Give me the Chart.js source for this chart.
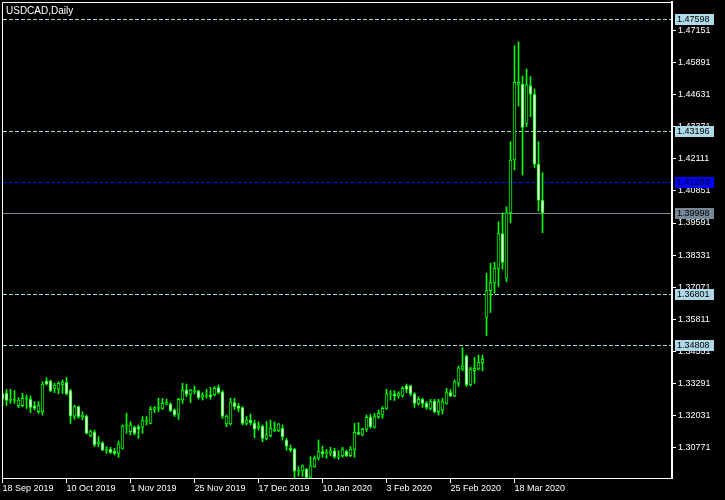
<!DOCTYPE html>
<html>
<head>
<meta charset="utf-8">
<script src="https://cdn.jsdelivr.net/npm/chart.js@4.4.1/dist/chart.umd.min.js"></script>
<style>
  html, body { margin: 0; padding: 0; background: #000; }
  canvas { display: block; }
</style>
</head>
<body>
<canvas id="chart" width="725" height="500"></canvas>
<script>
// Chart caption
const symbolTitle = 'USDCAD,Daily';

// One entry per daily bar (trading days only)
const dates = [
  '2019.09.18','2019.09.19','2019.09.20','2019.09.23','2019.09.24','2019.09.25','2019.09.26','2019.09.27','2019.09.30',
  '2019.10.01','2019.10.02','2019.10.03','2019.10.04','2019.10.07','2019.10.08','2019.10.09','2019.10.10','2019.10.11',
  '2019.10.14','2019.10.15','2019.10.16','2019.10.17','2019.10.18','2019.10.21','2019.10.22','2019.10.23','2019.10.24',
  '2019.10.25','2019.10.28','2019.10.29','2019.10.30','2019.10.31',
  '2019.11.01','2019.11.04','2019.11.05','2019.11.06','2019.11.07','2019.11.08','2019.11.11','2019.11.12','2019.11.13',
  '2019.11.14','2019.11.15','2019.11.18','2019.11.19','2019.11.20','2019.11.21','2019.11.22','2019.11.25','2019.11.26',
  '2019.11.27','2019.11.28','2019.11.29',
  '2019.12.02','2019.12.03','2019.12.04','2019.12.05','2019.12.06','2019.12.09','2019.12.10','2019.12.11','2019.12.12',
  '2019.12.13','2019.12.16','2019.12.17','2019.12.18','2019.12.19','2019.12.20','2019.12.23','2019.12.24','2019.12.26',
  '2019.12.27','2019.12.30','2019.12.31',
  '2020.01.02','2020.01.03','2020.01.06','2020.01.07','2020.01.08','2020.01.09','2020.01.10','2020.01.13','2020.01.14',
  '2020.01.15','2020.01.16','2020.01.17','2020.01.20','2020.01.21','2020.01.22','2020.01.23','2020.01.24','2020.01.27',
  '2020.01.28','2020.01.29','2020.01.30','2020.01.31',
  '2020.02.03','2020.02.04','2020.02.05','2020.02.06','2020.02.07','2020.02.10','2020.02.11','2020.02.12','2020.02.13',
  '2020.02.14','2020.02.17','2020.02.18','2020.02.19','2020.02.20','2020.02.21','2020.02.24','2020.02.25','2020.02.26',
  '2020.02.27','2020.02.28',
  '2020.03.02','2020.03.03','2020.03.04','2020.03.05','2020.03.06','2020.03.09','2020.03.10','2020.03.11','2020.03.12',
  '2020.03.13','2020.03.16','2020.03.17','2020.03.18','2020.03.19','2020.03.20','2020.03.23','2020.03.24','2020.03.25',
  '2020.03.26','2020.03.27'
];

// OHLC
const open = [
  1.3287, 1.3289, 1.3261, 1.3264, 1.3241, 1.3241, 1.3266, 1.3266, 1.3240, 1.3217,
  1.3217, 1.3338, 1.3338, 1.3309, 1.3306, 1.3322, 1.3333, 1.3300, 1.3200, 1.3237,
  1.3198, 1.3200, 1.3124, 1.3136, 1.3090, 1.3095, 1.3066, 1.3070, 1.3061, 1.3053,
  1.3073, 1.3161, 1.3139, 1.3156, 1.3158, 1.3156, 1.3178, 1.3171, 1.3226, 1.3230,
  1.3230, 1.3247, 1.3247, 1.3224, 1.3207, 1.3263, 1.3302, 1.3285, 1.3295, 1.3299,
  1.3274, 1.3279, 1.3283, 1.3283, 1.3312, 1.3295, 1.3169, 1.3169, 1.3253, 1.3240,
  1.3233, 1.3171, 1.3184, 1.3171, 1.3152, 1.3161, 1.3112, 1.3123, 1.3142, 1.3142,
  1.3152, 1.3106, 1.3073, 1.3070, 1.2984, 1.2984, 1.2991, 1.2959, 1.3001, 1.3034,
  1.3060, 1.3051, 1.3053, 1.3063, 1.3038, 1.3043, 1.3060, 1.3044, 1.3069, 1.3136,
  1.3126, 1.3148, 1.3195, 1.3156, 1.3198, 1.3204, 1.3230, 1.3283, 1.3285, 1.3279,
  1.3279, 1.3319, 1.3319, 1.3287, 1.3250, 1.3266, 1.3250, 1.3230, 1.3259, 1.3217,
  1.3224, 1.3250, 1.3292, 1.3279, 1.3329, 1.3384, 1.3436, 1.3322, 1.3378, 1.3384,
  1.3410, 1.3588, 1.3693, 1.3724, 1.3781, 1.3918, 1.3742, 1.3999, 1.4207, 1.4504,
  1.4504, 1.4351, 1.4499, 1.4465, 1.4190, 1.4048
];
const high = [
  1.3292, 1.3305, 1.3305, 1.3300, 1.3272, 1.3289, 1.3283, 1.3279, 1.3257, 1.3257,
  1.3335, 1.3351, 1.3342, 1.3329, 1.3335, 1.3342, 1.3352, 1.3305, 1.3243, 1.3239,
  1.3217, 1.3204, 1.3145, 1.3145, 1.3119, 1.3099, 1.3080, 1.3077, 1.3073, 1.3102,
  1.3165, 1.3211, 1.3178, 1.3161, 1.3165, 1.3198, 1.3198, 1.3237, 1.3237, 1.3270,
  1.3270, 1.3266, 1.3253, 1.3228, 1.3270, 1.3329, 1.3326, 1.3305, 1.3318, 1.3302,
  1.3292, 1.3305, 1.3313, 1.3316, 1.3322, 1.3300, 1.3204, 1.3270, 1.3270, 1.3250,
  1.3237, 1.3198, 1.3208, 1.3184, 1.3178, 1.3165, 1.3178, 1.3184, 1.3178, 1.3171,
  1.3165, 1.3112, 1.3086, 1.3073, 1.3001, 1.3008, 1.2994, 1.3040, 1.3043, 1.3106,
  1.3082, 1.3069, 1.3077, 1.3073, 1.3064, 1.3077, 1.3066, 1.3080, 1.3171, 1.3174,
  1.3152, 1.3204, 1.3207, 1.3211, 1.3224, 1.3237, 1.3305, 1.3300, 1.3300, 1.3296,
  1.3316, 1.3326, 1.3322, 1.3292, 1.3276, 1.3270, 1.3257, 1.3266, 1.3266, 1.3266,
  1.3270, 1.3309, 1.3305, 1.3342, 1.3397, 1.3469, 1.3440, 1.3392, 1.3431, 1.3440,
  1.3440, 1.3761, 1.3801, 1.3805, 1.3964, 1.3999, 1.4023, 1.4279, 1.4656, 1.4672,
  1.4537, 1.4565, 1.4535, 1.4486, 1.4279, 1.4157
];
const low = [
  1.3243, 1.3241, 1.3250, 1.3250, 1.3233, 1.3237, 1.3230, 1.3213, 1.3224, 1.3211,
  1.3204, 1.3322, 1.3296, 1.3292, 1.3287, 1.3289, 1.3283, 1.3171, 1.3187, 1.3191,
  1.3185, 1.3130, 1.3119, 1.3080, 1.3080, 1.3064, 1.3053, 1.3053, 1.3047, 1.3038,
  1.3070, 1.3132, 1.3126, 1.3126, 1.3112, 1.3132, 1.3165, 1.3169, 1.3213, 1.3217,
  1.3226, 1.3243, 1.3217, 1.3198, 1.3187, 1.3250, 1.3276, 1.3253, 1.3287, 1.3266,
  1.3263, 1.3270, 1.3266, 1.3279, 1.3287, 1.3191, 1.3158, 1.3165, 1.3226, 1.3217,
  1.3165, 1.3165, 1.3165, 1.3115, 1.3145, 1.3099, 1.3106, 1.3119, 1.3139, 1.3139,
  1.3106, 1.3066, 1.3060, 1.2955, 1.2964, 1.2962, 1.2955, 1.2955, 1.2999, 1.3027,
  1.3038, 1.3034, 1.3043, 1.3034, 1.3030, 1.3038, 1.3040, 1.3040, 1.3038, 1.3126,
  1.3122, 1.3139, 1.3152, 1.3152, 1.3191, 1.3191, 1.3226, 1.3263, 1.3261, 1.3270,
  1.3274, 1.3292, 1.3279, 1.3234, 1.3243, 1.3234, 1.3226, 1.3224, 1.3213, 1.3204,
  1.3208, 1.3246, 1.3276, 1.3276, 1.3316, 1.3378, 1.3316, 1.3318, 1.3329, 1.3381,
  1.3378, 1.3516, 1.3607, 1.3683, 1.3709, 1.3777, 1.3728, 1.3960, 1.4168, 1.4419,
  1.4148, 1.4338, 1.4377, 1.4177, 1.4006, 1.3921
];
const close = [
  1.3266, 1.3261, 1.3267, 1.3262, 1.3263, 1.3270, 1.3272, 1.3234, 1.3230, 1.3241,
  1.3326, 1.3325, 1.3300, 1.3322, 1.3329, 1.3334, 1.3287, 1.3200, 1.3237, 1.3198,
  1.3203, 1.3132, 1.3139, 1.3086, 1.3099, 1.3066, 1.3069, 1.3057, 1.3053, 1.3090,
  1.3161, 1.3165, 1.3165, 1.3132, 1.3148, 1.3182, 1.3182, 1.3226, 1.3233, 1.3234,
  1.3250, 1.3253, 1.3221, 1.3204, 1.3266, 1.3302, 1.3285, 1.3302, 1.3300, 1.3272,
  1.3283, 1.3281, 1.3276, 1.3309, 1.3292, 1.3200, 1.3200, 1.3255, 1.3237, 1.3230,
  1.3171, 1.3184, 1.3174, 1.3148, 1.3161, 1.3112, 1.3126, 1.3152, 1.3149, 1.3169,
  1.3119, 1.3082, 1.3066, 1.2984, 1.2988, 1.3004, 1.2959, 1.3004, 1.3034, 1.3060,
  1.3051, 1.3056, 1.3063, 1.3040, 1.3043, 1.3070, 1.3044, 1.3070, 1.3136, 1.3129,
  1.3148, 1.3195, 1.3158, 1.3198, 1.3211, 1.3230, 1.3287, 1.3287, 1.3279, 1.3289,
  1.3309, 1.3305, 1.3287, 1.3250, 1.3266, 1.3250, 1.3234, 1.3257, 1.3217, 1.3257,
  1.3257, 1.3292, 1.3279, 1.3335, 1.3390, 1.3397, 1.3322, 1.3385, 1.3388, 1.3411,
  1.3423, 1.3693, 1.3724, 1.3781, 1.3918, 1.3804, 1.3999, 1.4207, 1.4512, 1.4512,
  1.4335, 1.4502, 1.4466, 1.4190, 1.4048, 1.39998
];

// Axis ticks
const xTickIndex = [0, 16, 32, 48, 64, 80, 96, 112, 128];
const xTickLabels = ['18 Sep 2019', '10 Oct 2019', '1 Nov 2019', '25 Nov 2019', '17 Dec 2019',
                     '10 Jan 2020', '3 Feb 2020', '25 Feb 2020', '18 Mar 2020'];
const yTickValues = [1.47151, 1.45891, 1.44631, 1.43371, 1.42111, 1.40851, 1.39591,
                     1.38331, 1.37071, 1.35811, 1.34551, 1.33291, 1.32031, 1.30771];

// Horizontal levels drawn on the chart
const levelLines = [1.47598, 1.43196, 1.36801, 1.34808];
const alertLevel = 1.41203;
const bidLevel = 1.39998;

const BULL = '#000000';
const BEAR = '#ffffff';
const CANDLE = '#00ff00';
const LEVEL = '#add8e6';
const FONT = '"Liberation Sans", Arial, sans-serif';

const bodies = dates.map((d, i) => ({ x: i, y: [Math.min(open[i], close[i]), Math.max(open[i], close[i])] }));
const wicks = dates.map((d, i) => ({ x: i, y: [low[i], high[i]] }));
const bodyFill = dates.map((d, i) => (close[i] > open[i] ? BULL : BEAR));

// horizontal lines, their price tags, frame and caption
const overlay = {
  id: 'overlay',
  beforeDatasetsDraw(chart) {
    const { ctx, chartArea: a, scales: { y } } = chart;
    ctx.save();
    ctx.lineWidth = 1;
    const line = (v, color, dash) => {
      const py = Math.round(y.getPixelForValue(v)) + 0.5;
      ctx.strokeStyle = color;
      ctx.setLineDash(dash);
      ctx.beginPath();
      ctx.moveTo(a.left + 1, py);
      ctx.lineTo(a.right - 1, py);
      ctx.stroke();
    };
    levelLines.forEach(v => line(v, LEVEL, [4, 2]));
    line(alertLevel, '#0000ff', [4, 2]);
    line(bidLevel, '#778899', []);
    ctx.restore();
  },
  afterDraw(chart) {
    const { ctx, chartArea: a, scales: { y } } = chart;
    ctx.save();
    // frame (left and top; right and bottom come from the axes)
    ctx.strokeStyle = '#ffffff';
    ctx.lineWidth = 1;
    ctx.beginPath();
    ctx.moveTo(a.left + 0.5, a.bottom);
    ctx.lineTo(a.left + 0.5, a.top + 0.5);
    ctx.lineTo(a.right, a.top + 0.5);
    ctx.stroke();

    const tag = (v, bg, fg) => {
      const py = Math.round(y.getPixelForValue(v));
      ctx.fillStyle = bg;
      ctx.fillRect(a.right + 3, py - 5, 39, 11);
      ctx.fillStyle = fg;
      ctx.font = '9px ' + FONT;
      ctx.textBaseline = 'middle';
      ctx.textAlign = 'left';
      ctx.fillText(v.toFixed(5), a.right + 5, py + 1);
    };
    levelLines.forEach(v => tag(v, LEVEL, '#000000'));
    tag(alertLevel, '#0000ff', '#000000');
    tag(bidLevel, '#778899', '#000000');

    ctx.fillStyle = '#ffffff';
    ctx.font = '10px ' + FONT;
    ctx.textBaseline = 'alphabetic';
    ctx.fillText(symbolTitle, a.left + 4, 14);
    ctx.restore();
  }
};

new Chart(document.getElementById('chart'), {
  type: 'bar',
  data: {
    datasets: [
      {
        label: 'body',
        data: bodies,
        backgroundColor: bodyFill,
        borderColor: CANDLE,
        borderWidth: 1,
        borderSkipped: false,
        barThickness: 3,
        grouped: false
      },
      {
        label: 'wick',
        data: wicks,
        backgroundColor: CANDLE,
        borderWidth: 0,
        barThickness: 1,
        grouped: false
      }
    ]
  },
  options: {
    responsive: false,
    animation: false,
    events: [],
    devicePixelRatio: 1,
    layout: { padding: { left: 2, top: 2, right: 0, bottom: 0 } },
    plugins: {
      legend: { display: false },
      tooltip: { enabled: false },
      title: { display: false }
    },
    scales: {
      x: {
        type: 'linear',
        offset: false,
        min: -0.125,
        max: 167.375,
        afterBuildTicks: s => { s.ticks = xTickIndex.map(v => ({ value: v })); },
        afterFit: s => { s.height = 22; s.paddingLeft = 0; s.paddingRight = 0; },
        grid: { offset: false, drawOnChartArea: false, drawTicks: true, tickLength: 5, color: '#ffffff' },
        border: { display: true, color: '#ffffff', width: 1 },
        ticks: {
          autoSkip: false,
          maxRotation: 0,
          align: 'start',
          padding: 0,
          color: '#ffffff',
          font: { family: FONT, size: 9 },
          callback: v => {
            const j = xTickIndex.indexOf(v);
            return j >= 0 ? xTickLabels[j] : '';
          }
        }
      },
      y: {
        type: 'linear',
        position: 'right',
        min: 1.29564,
        max: 1.48282,
        afterBuildTicks: s => { s.ticks = yTickValues.map(v => ({ value: v })); },
        afterFit: s => { s.width = 53; s.paddingTop = 0; s.paddingBottom = 0; },
        grid: { drawOnChartArea: false, drawTicks: true, tickLength: 4, color: '#ffffff' },
        border: { display: true, color: '#ffffff', width: 2 },
        ticks: {
          padding: 2,
          color: '#ffffff',
          font: { family: FONT, size: 9 },
          callback: v => v.toFixed(5)
        }
      }
    }
  },
  plugins: [overlay]
});
</script>
</body>
</html>
